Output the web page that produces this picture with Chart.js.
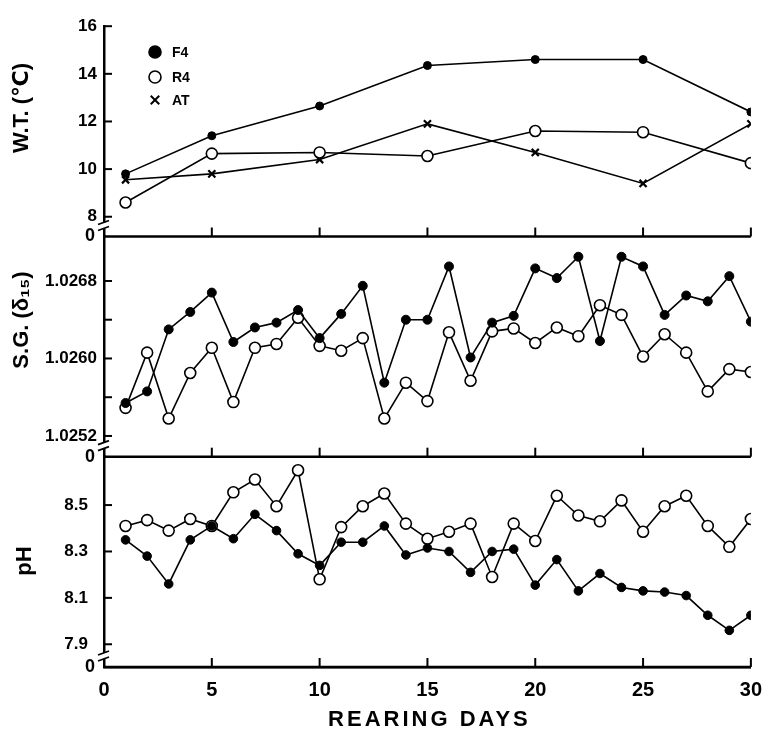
<!DOCTYPE html>
<html>
<head>
<meta charset="utf-8">
<script src="https://cdn.jsdelivr.net/npm/chart.js@4.4.0/dist/chart.umd.min.js"></script>
<style>
  html, body { margin: 0; padding: 0; background: #fff; }
</style>
</head>
<body>
<canvas id="rearingChart" width="773" height="733"></canvas>
<script>
var FONT = '"Liberation Sans", Arial, "DejaVu Sans", sans-serif';

// water temperature (every 5 days)
var wtDays = [1, 5, 10, 15, 20, 25, 30];
var wtF4 = [9.8, 11.4, 12.65, 14.35, 14.6, 14.6, 12.4];
var wtR4 = [8.6, 10.65, 10.7, 10.55, 11.6, 11.55, 10.25];
var wtAT = [9.55, 9.8, 10.4, 11.9, 10.7, 9.4, 11.9];

// daily readings
var days = [1, 2, 3, 4, 5, 6, 7, 8, 9, 10, 11, 12, 13, 14, 15,
            16, 17, 18, 19, 20, 21, 22, 23, 24, 25, 26, 27, 28, 29, 30];
var sgF4 = [1.02554, 1.02566, 1.02630, 1.02648, 1.02668, 1.02617, 1.02632, 1.02637, 1.02650, 1.02621,
            1.02646, 1.02675, 1.02575, 1.02640, 1.02640, 1.02695, 1.02601, 1.02637, 1.02644, 1.02693,
            1.02683, 1.02705, 1.02618, 1.02705, 1.02695, 1.02645, 1.02665, 1.02659, 1.02685, 1.02638];
var sgR4 = [1.02549, 1.02606, 1.02538, 1.02585, 1.02611, 1.02555, 1.02611, 1.02615, 1.02642, 1.02613,
            1.02608, 1.02621, 1.02538, 1.02575, 1.02556, 1.02627, 1.02577, 1.02628, 1.02631, 1.02616,
            1.02632, 1.02623, 1.02655, 1.02645, 1.02602, 1.02625, 1.02606, 1.02566, 1.02589, 1.02586];
var phF4 = [8.35, 8.28, 8.16, 8.35, 8.41, 8.355, 8.46, 8.39, 8.29, 8.24,
            8.34, 8.34, 8.41, 8.285, 8.315, 8.30, 8.21, 8.30, 8.31, 8.155,
            8.265, 8.13, 8.205, 8.145, 8.13, 8.125, 8.11, 8.025, 7.96, 8.025];
var phR4 = [8.41, 8.435, 8.39, 8.44, 8.41, 8.555, 8.61, 8.495, 8.65, 8.18,
            8.405, 8.495, 8.55, 8.42, 8.355, 8.385, 8.42, 8.19, 8.42, 8.345,
            8.54, 8.455, 8.43, 8.52, 8.385, 8.495, 8.54, 8.41, 8.32, 8.44];

// tick labels
var xTicks = [0, 5, 10, 15, 20, 25, 30];
var wtTicks = [8, 10, 12, 14, 16];
var sgTicks = [1.0252, 1.0256, 1.0260, 1.0264, 1.0268];
var sgLabelled = [1.0252, 1.0260, 1.0268];
var phTicks = [7.9, 8.1, 8.3, 8.5];

function pts(xs, ys) {
  return xs.map(function (d, i) { return { x: d, y: ys[i] }; });
}

function series(label, data, axis, kind, r) {
  var s = {
    label: label, data: data, yAxisID: axis,
    borderColor: '#000', borderWidth: 1.6, tension: 0, fill: false,
    pointBorderColor: '#000', pointRadius: r, pointHoverRadius: r
  };
  if (kind === 'filled') {
    s.pointStyle = 'circle'; s.pointBackgroundColor = '#000'; s.pointBorderWidth = 1;
  } else if (kind === 'open') {
    s.pointStyle = 'circle'; s.pointBackgroundColor = '#fff'; s.pointBorderWidth = 1.6;
  } else {
    s.pointStyle = 'crossRot'; s.pointBackgroundColor = '#000'; s.pointBorderWidth = 2.2;
  }
  return s;
}

function fixTicks(list) {
  return function (scale) { scale.ticks = list.map(function (v) { return { value: v }; }); };
}

function yAxis(weight, stackWeight, min, max, list, pad, cb) {
  return {
    type: 'linear', position: 'left', stack: 'panels', stackWeight: stackWeight, weight: weight,
    min: min, max: max,
    afterBuildTicks: fixTicks(list),
    afterFit: function (scale) { scale.width = 104; },
    grid: { display: false, drawTicks: false },
    border: { display: true, color: '#000', width: 2.5 },
    ticks: {
      color: '#000', padding: pad, font: { family: FONT, size: 17, weight: 'bold' },
      callback: cb || function (v) { return v; }
    }
  };
}

function vText(ctx, text, x, y) {
  ctx.save();
  ctx.translate(x, y);
  ctx.rotate(-Math.PI / 2);
  ctx.fillText(text, 0, 0);
  ctx.restore();
}

// panel frames, inward ticks, axis breaks, axis titles and the key
var panelDecor = {
  id: 'panelDecor',
  afterDraw: function (chart) {
    var ctx = chart.ctx, area = chart.chartArea, xs = chart.scales.x;
    var panels = [chart.scales.yWT, chart.scales.ySG, chart.scales.ypH];
    ctx.save();
    ctx.strokeStyle = '#000';
    ctx.fillStyle = '#000';
    panels.forEach(function (ys) {
      var b = ys.bottom;
      ctx.lineWidth = 2.5;
      ctx.beginPath(); ctx.moveTo(area.left, b); ctx.lineTo(area.right, b); ctx.stroke();
      ctx.lineWidth = 2;
      xTicks.forEach(function (v) {
        if (v === 0) return;
        var px = xs.getPixelForValue(v);
        ctx.beginPath(); ctx.moveTo(px, b); ctx.lineTo(px, b - 9); ctx.stroke();
      });
      ys.ticks.forEach(function (t) {
        var py = ys.getPixelForValue(t.value);
        ctx.beginPath(); ctx.moveTo(area.left, py); ctx.lineTo(area.left + 8, py); ctx.stroke();
      });
      // axis break
      var bk = b - 11;
      ctx.fillStyle = '#fff';
      ctx.fillRect(area.left - 3, bk - 3, 6, 6);
      ctx.fillStyle = '#000';
      ctx.lineWidth = 1.8;
      [-3, 3].forEach(function (d) {
        ctx.beginPath(); ctx.moveTo(area.left - 6, bk + d + 2); ctx.lineTo(area.left + 5, bk + d - 2); ctx.stroke();
      });
      ctx.font = 'bold 18px ' + FONT;
      ctx.textAlign = 'right';
      ctx.textBaseline = 'middle';
      ctx.fillText('0', area.left - 9, b);
    });

    ctx.font = 'bold 22px ' + FONT;
    ctx.textAlign = 'center';
    ctx.textBaseline = 'middle';
    vText(ctx, 'W.T. (\u2103)', 22, 108);
    vText(ctx, 'S.G. (\u03b4\u2081\u2085)', 22, 320);
    vText(ctx, 'pH', 25, 561);

    // x axis title, spaced out like the original lettering
    ctx.letterSpacing = '3px';
    ctx.fillText('REARING DAYS', (area.left + area.right) / 2 + 2, 720);
    ctx.letterSpacing = '0px';

    // key
    var keyX = 155, keyRows = [52, 77, 100];
    ctx.font = 'bold 14px ' + FONT;
    ctx.textAlign = 'left';
    [0, 1, 2].forEach(function (i) {
      var ds = chart.data.datasets[i];
      ctx.fillStyle = ds.pointBackgroundColor;
      ctx.strokeStyle = '#000';
      ctx.lineWidth = i === 2 ? 2 : 1.6;
      Chart.helpers.drawPoint(ctx, { pointStyle: ds.pointStyle, radius: 6, rotation: 0, borderWidth: ctx.lineWidth }, keyX, keyRows[i]);
      ctx.fillStyle = '#000';
      ctx.fillText(ds.label, keyX + 17, keyRows[i] + 1);
    });
    ctx.restore();
  }
};

var ctx = document.getElementById('rearingChart');

var rearingChart = new Chart(ctx, {
  type: 'line',
  data: {
    datasets: [
      series('F4', pts(wtDays, wtF4), 'yWT', 'filled', 4),
      series('R4', pts(wtDays, wtR4), 'yWT', 'open', 5.5),
      series('AT', pts(wtDays, wtAT), 'yWT', 'cross', 5),
      series('F4', pts(days, sgF4), 'ySG', 'filled', 4.5),
      series('R4', pts(days, sgR4), 'ySG', 'open', 5.5),
      series('F4', pts(days, phF4), 'ypH', 'filled', 4.3),
      series('R4', pts(days, phR4), 'ypH', 'open', 5.5)
    ]
  },
  options: {
    responsive: false,
    animation: false,
    devicePixelRatio: 1,
    layout: { padding: { left: 0, top: 18, right: 12, bottom: 0 } },
    plugins: {
      legend: { display: false },
      tooltip: { enabled: false }
    },
    scales: {
      x: {
        type: 'linear', min: 0, max: 30,
        afterBuildTicks: fixTicks(xTicks),
        afterFit: function (scale) { scale.height = 66; },
        grid: { display: false, drawTicks: false },
        border: { display: true, color: '#000', width: 2.5 },
        ticks: { color: '#000', padding: 11, font: { family: FONT, size: 20, weight: 'bold' } },
        title: { display: false }
      },
      yWT: yAxis(3, 213, 7.17, 16, wtTicks, 7),
      ySG: yAxis(2, 223, 1.024986, 1.027259, sgTicks, 7, function (v) {
        return sgLabelled.indexOf(v) >= 0 ? v.toFixed(4) : '';
      }),
      ypH: yAxis(1, 213, 7.802, 8.7085, phTicks, 16, function (v) { return v.toFixed(1); })
    }
  },
  plugins: [panelDecor]
});
</script>
</body>
</html>
